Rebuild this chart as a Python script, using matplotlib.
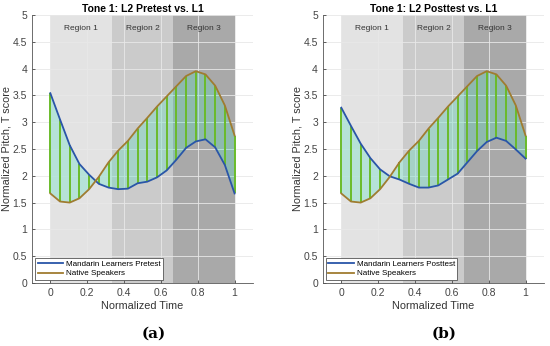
import numpy as np
import matplotlib.pyplot as plt

plt.rcParams['font.family'] = ['Liberation Sans', 'DejaVu Sans']

t = np.linspace(0, 1, 20)
native = [1.67, 1.52, 1.50, 1.58, 1.75, 1.98, 2.25, 2.47, 2.65, 2.88, 3.08, 3.29, 3.48, 3.67, 3.86, 3.95, 3.89, 3.68, 3.31, 2.75]
pretest = [3.54, 3.05, 2.57, 2.22, 2.02, 1.85, 1.78, 1.75, 1.76, 1.86, 1.89, 1.97, 2.10, 2.30, 2.52, 2.64, 2.68, 2.53, 2.20, 1.67]
posttest = [3.27, 2.93, 2.60, 2.33, 2.12, 1.99, 1.93, 1.85, 1.78, 1.78, 1.82, 1.93, 2.04, 2.25, 2.46, 2.63, 2.71, 2.65, 2.49, 2.32]

regions = ["Region 1", "Region 2", "Region 3"]
region_edges = [0, 1/3, 2/3, 1]
region_colors = ["#e3e3e3", "#cbcbcb", "#a9a9a9"]
titles = ["Tone 1: L2 Pretest vs. L1", "Tone 1: L2 Posttest vs. L1"]
learner_labels = ["Mandarin Learners Pretest", "Mandarin Learners Posttest"]
panel_labels = ["(a)", "(b)"]
xticks = [0, 0.2, 0.4, 0.6, 0.8, 1]
xticklabels = ["0", "0.2", "0.4", "0.6", "0.8", "1"]
yticks = [0, 0.5, 1, 1.5, 2, 2.5, 3, 3.5, 4, 4.5, 5]
yticklabels = ["0", "0.5", "1", "1.5", "2", "2.5", "3", "3.5", "4", "4.5", "5"]

fig = plt.figure(figsize=(5.5, 3.46), dpi=100)
axes_pos = [[0.058, 0.182, 0.402, 0.775], [0.587, 0.182, 0.402, 0.775]]
learners = [pretest, posttest]

for i in range(2):
    ax = fig.add_axes(axes_pos[i])
    for k in range(3):
        ax.axvspan(region_edges[k], region_edges[k + 1], ymin=0, ymax=1, color=region_colors[k], zorder=0, lw=0)
        ax.text((region_edges[k] + region_edges[k + 1]) / 2, 4.74, regions[k], ha="center", va="center",
                fontsize=6, color="#333333", zorder=5)
    L = np.array(learners[i])
    N = np.array(native)
    ax.fill_between(t, L, N, color="#50e0c0", alpha=0.3, lw=0, zorder=2)
    ax.vlines(t, np.minimum(L, N), np.maximum(L, N), color="#6abc2a", lw=1.4, zorder=3)
    ax.plot(t, L, color="#2a55a8", lw=1.3, zorder=4, label=learner_labels[i])
    ax.plot(t, N, color="#a07c30", lw=1.3, zorder=4, label="Native Speakers")
    ax.set_xlim(-0.1, 1.1)
    ax.set_ylim(0, 5)
    ax.set_xticks(xticks)
    ax.set_xticklabels(xticklabels)
    ax.set_yticks(yticks)
    ax.set_yticklabels(yticklabels)
    ax.grid(True, color="#e8e8e8", lw=0.6, zorder=1)
    ax.set_axisbelow(True)
    for s in ["top", "right"]:
        ax.spines[s].set_visible(False)
    for s in ["left", "bottom"]:
        ax.spines[s].set_color("#555555")
        ax.spines[s].set_linewidth(0.6)
    ax.tick_params(labelsize=7.5, colors="#444444", length=2, width=0.6, direction="in")
    ax.set_title(titles[i], fontsize=7.5, fontweight="bold", pad=2)
    ax.set_xlabel("Normalized Time", fontsize=7.8, color="#333333", labelpad=2)
    ax.set_ylabel("Normalized Pitch, T score", fontsize=7.8, color="#333333", labelpad=1)
    leg = ax.legend(loc="lower left", fontsize=5.8, frameon=True, fancybox=False, edgecolor="#555555",
                    handlelength=3.2, borderpad=0.3, labelspacing=0.25, borderaxespad=0.4, handletextpad=0.3)
    leg.get_frame().set_linewidth(0.6)
    leg.get_frame().set_facecolor("white")
    leg.get_frame().set_alpha(1)
    fig.text(axes_pos[i][0] + 0.5 * 0.402 + 0.02, 0.035, panel_labels[i], ha="center", va="center",
             fontsize=11, fontweight="bold", family="DejaVu Serif")

fig.savefig("out.png", dpi=100)
